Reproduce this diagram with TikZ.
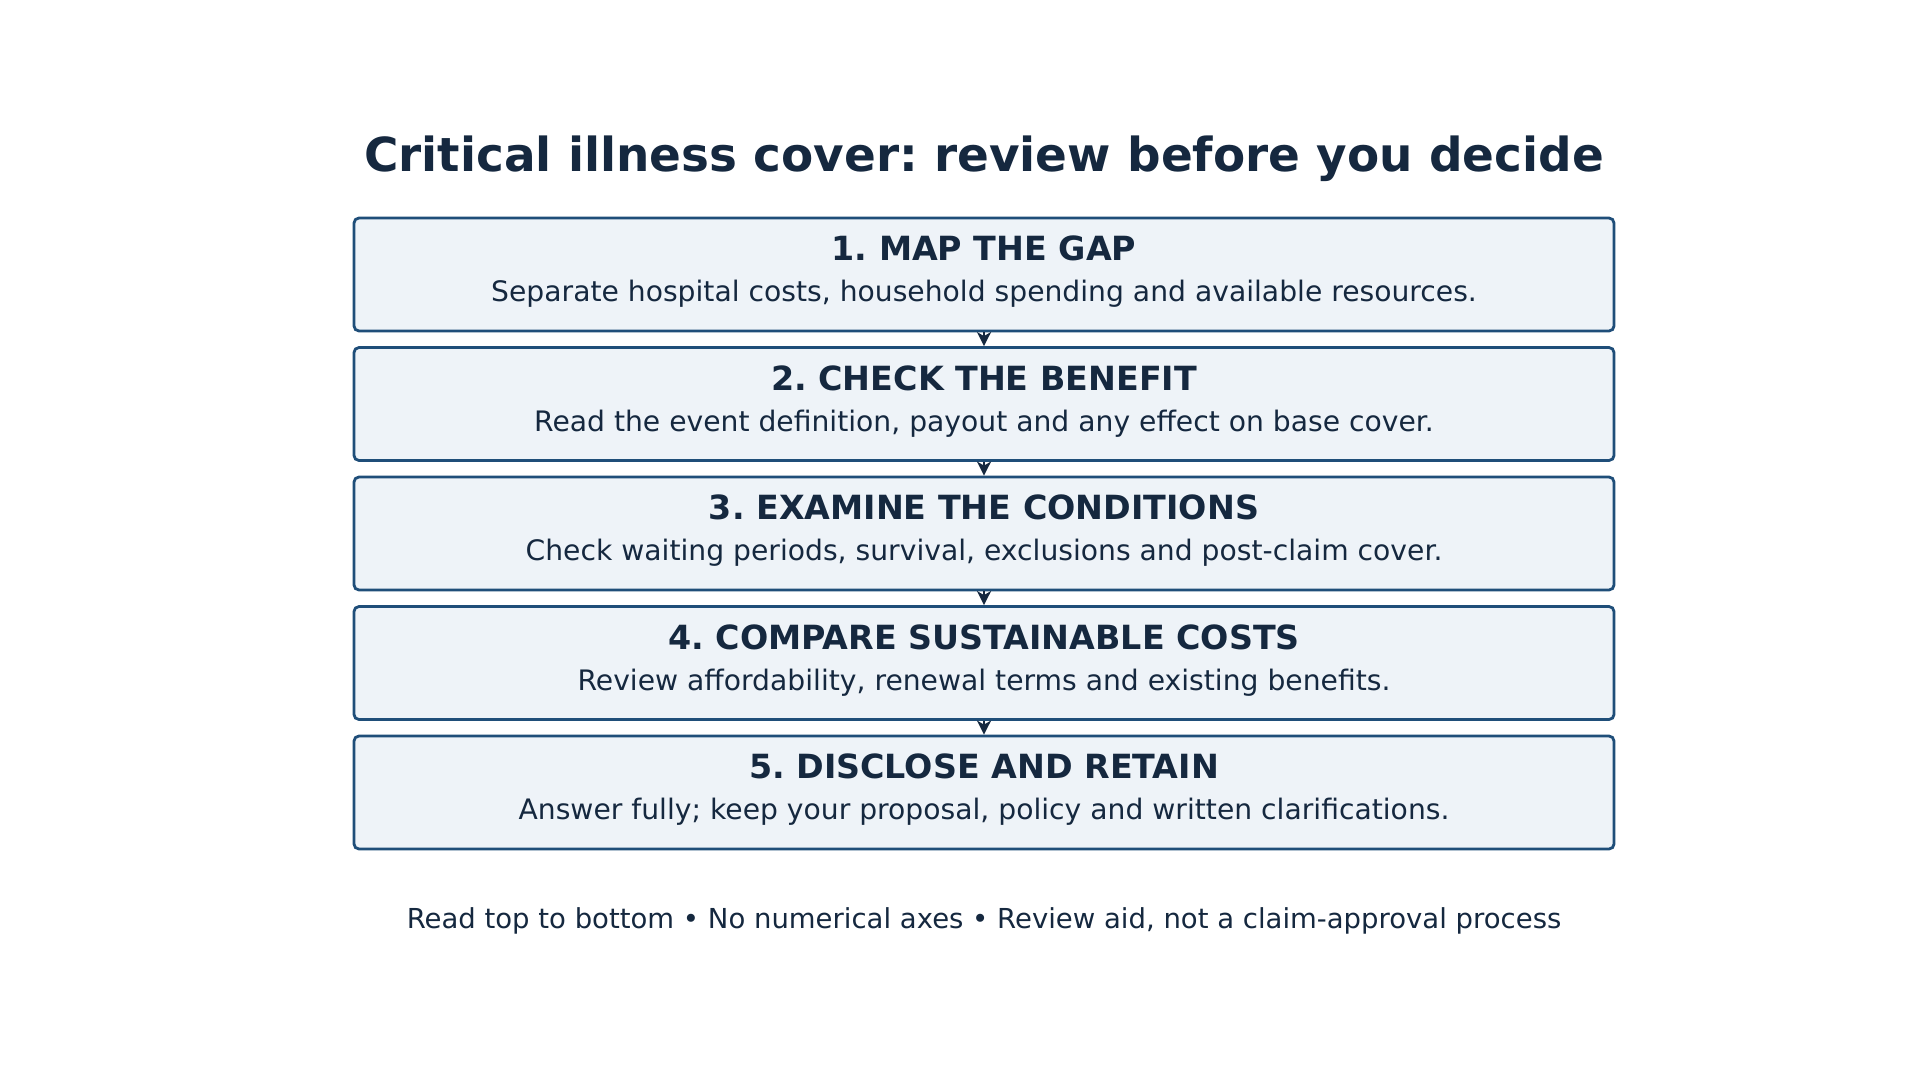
\documentclass[tikz,border=0pt]{standalone}
\usepackage{fontspec}
\setmainfont{DejaVu Sans}
\usepackage{tikz}
\usetikzlibrary{arrows.meta, positioning}
\tikzset{>={Stealth[length=14pt, width=14pt, inset=4pt]}}
\definecolor{navy}{HTML}{15283F}
\definecolor{edge}{HTML}{1F4E79}
\definecolor{boxfill}{HTML}{EEF3F8}
\def\boxwidth{1260pt}
\def\boxheight{113pt}
\def\midx{984}
\frenchspacing

\tikzset{
  stage/.style={draw=edge, fill=boxfill, line width=2.8pt, rounded corners=5pt, minimum width=\boxwidth, minimum height=\boxheight, inner sep=0pt},
  head/.style={text=navy, font=\fontsize{33.3}{40}\selectfont\bfseries, inner sep=0pt, anchor=base},
  desc/.style={text=navy, font=\fontsize{28.2}{34}\selectfont, inner sep=0pt, anchor=base},
  link/.style={->, draw=navy, line width=2.6pt}
}

\begin{document}
\begin{tikzpicture}[x=1pt, y=-1pt]

\useasboundingbox[fill=white] (0,0) rectangle (1920,1080);

% Title
\node[text=navy, font=\fontsize{46.9}{56}\selectfont\bfseries, inner sep=0pt, anchor=base] (title) at (\midx, 171.7) {Critical illness cover: review before you decide};

% Stages
\node[stage] (s1) at (\midx, 274.5) {};
\node[head] (h1) at (\midx, 260.5) {1. MAP THE GAP};
\node[desc] (d1) at (\midx, 301.7) {Separate hospital costs, household spending and available resources.};

\node[stage] (s2) at (\midx, 404) {};
\node[head] (h2) at (\midx, 390) {2. CHECK THE BENEFIT};
\node[desc] (d2) at (\midx, 431.2) {Read the event definition, payout and any effect on base cover.};

\node[stage] (s3) at (\midx, 533.5) {};
\node[head] (h3) at (\midx, 519.5) {3. EXAMINE THE CONDITIONS};
\node[desc] (d3) at (\midx, 560.7) {Check waiting periods, survival, exclusions and post-claim cover.};

\node[stage] (s4) at (\midx, 663) {};
\node[head] (h4) at (\midx, 649) {4. COMPARE SUSTAINABLE COSTS};
\node[desc] (d4) at (\midx, 690.2) {Review affordability, renewal terms and existing benefits.};

\node[stage] (s5) at (\midx, 792.5) {};
\node[head] (h5) at (\midx, 778.5) {5. DISCLOSE AND RETAIN};
\node[desc] (d5) at (\midx, 819.7) {Answer fully; keep your proposal, policy and written clarifications.};

% Links
\draw[link] (s1.south) -- (s2.north);
\draw[link] (s2.south) -- (s3.north);
\draw[link] (s3.south) -- (s4.north);
\draw[link] (s4.south) -- (s5.north);

% Footer
\node[desc, font=\fontsize{27.5}{33}\selectfont] (foot) at (\midx, 928) {Read top to bottom • No numerical axes • Review aid, not a claim-approval process};

\end{tikzpicture}
\end{document}
